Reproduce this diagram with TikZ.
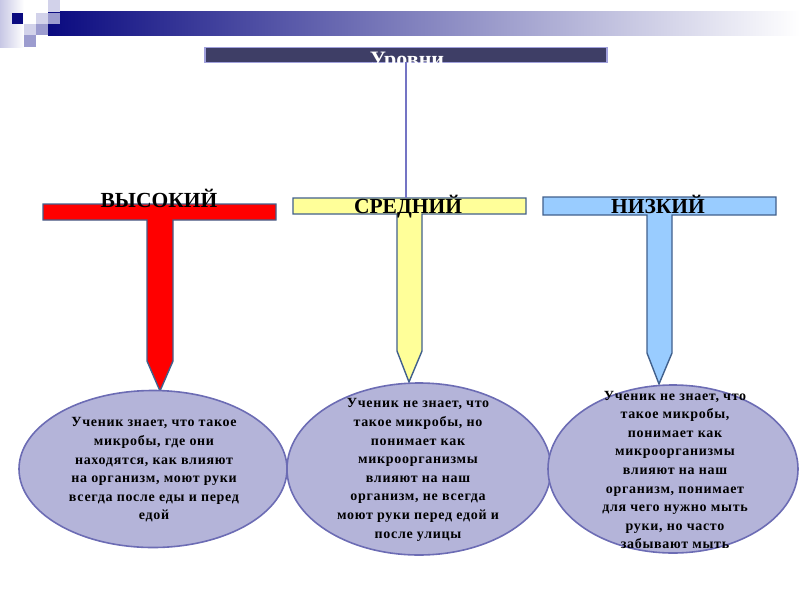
\documentclass[tikz,border=0pt]{standalone}
\usepackage{fontspec}
\setmainfont{Liberation Serif}
\usetikzlibrary{shapes.geometric}
\definecolor{navyc}{HTML}{0A0A80}
\definecolor{paleL}{HTML}{D2D2EA}
\definecolor{medL}{HTML}{9C9CCF}
\definecolor{titlefill}{HTML}{3E3E66}
\definecolor{titleedge}{HTML}{A0A0DC}
\definecolor{tedge}{HTML}{41608C}
\definecolor{ellfill}{HTML}{B4B4D9}
\definecolor{elledge}{HTML}{6C6CB4}
\definecolor{redT}{HTML}{FF0000}
\definecolor{yelT}{HTML}{FFFF99}
\definecolor{bluT}{HTML}{99CCFF}
\definecolor{linec}{HTML}{7474C4}
\tikzset{
  tshape/.style={draw=tedge, line width=1.4pt, line join=miter},
  ellbox/.style={ellipse, draw=elledge, fill=ellfill, line width=1.6pt, inner sep=0pt},
  elltext/.style={align=center, font=\fontsize{14}{18.6}\selectfont\bfseries\addfontfeature{LetterSpace=5}},
  levellab/.style={font=\fontsize{21.5}{21.5}\selectfont\bfseries, inner sep=0pt, anchor=base},
}
\begin{document}
\begin{tikzpicture}[x=1pt,y=-1pt]
\useasboundingbox (0,0) rectangle (800,600);
% header decoration
\shade[left color=navyc, right color=white] (48,11) rectangle (800,35);
\shade[left color=paleL!80!medL, right color=white] (0,0) rectangle (24,47);
\fill[navyc] (12,13) rectangle (23,24);
\fill[paleL] (48,0) rectangle (60,12);
\fill[paleL] (36,13) rectangle (48,24);
\fill[medL] (48,13) rectangle (60,24);
\fill[paleL] (24,24) rectangle (36,35);
\fill[medL] (36,24) rectangle (48,35);
\fill[medL] (24,35) rectangle (36,47);
% title
\node[draw=titleedge, fill=titlefill, line width=1.2pt, minimum width=402pt, minimum height=15pt, inner sep=0pt] (title) at (406,55) {};
\node[font=\fontsize{22}{22}\selectfont\bfseries, text=white, anchor=base, inner sep=0pt] (titletext) at (407,66) {Уровни};
\coordinate (ltop) at (406,62);
% T shapes
\draw[tshape, fill=redT] (43,204) -- (276,204) -- (276,220) -- (173,220) -- (173,361) -- (160,391) -- (147,361) -- (147,220) -- (43,220) -- cycle;
\draw[tshape, fill=yelT] (293,198) -- (526,198) -- (526,214) -- (422,214) -- (422,351) -- (409,382) -- (397,351) -- (397,214) -- (293,214) -- cycle;
\draw[tshape, fill=bluT] (543,197) -- (776,197) -- (776,215) -- (672,215) -- (672,353) -- (659,384) -- (647,353) -- (647,215) -- (543,215) -- cycle;
\coordinate (midbar) at (406,198);
\draw[linec, line width=1.6pt] (ltop) -- (midbar);
\node[levellab] (high) at (159,207) {ВЫСОКИЙ};
\node[levellab] (mid) at (408,213) {СРЕДНИЙ};
\node[levellab] (low) at (658,213) {НИЗКИЙ};
% ellipses
\node[ellbox, minimum width=268pt, minimum height=157pt] (e1) at (153,469) {};
\node[ellbox, minimum width=264pt, minimum height=172pt] (e2) at (419,469) {};
\node[ellbox, minimum width=250pt, minimum height=168pt] (e3) at (673,469) {};
\node[elltext] (t1) at (154,470) {Ученик знает, что такое\\микробы, где они\\находятся, как влияют\\на организм, моют руки\\всегда после еды и перед\\едой};
\node[elltext] (t2) at (418,470) {Ученик не знает, что\\такое микробы, но\\понимает как\\микроорганизмы\\влияют на наш\\организм, не всегда\\моют руки перед едой и\\после улицы};
\node[elltext] (t3) at (675,470) {Ученик не знает, что\\такое микробы,\\понимает как\\микроорганизмы\\влияют на наш\\организм, понимает\\для чего нужно мыть\\руки, но часто\\забывают мыть};
\end{tikzpicture}
\end{document}
